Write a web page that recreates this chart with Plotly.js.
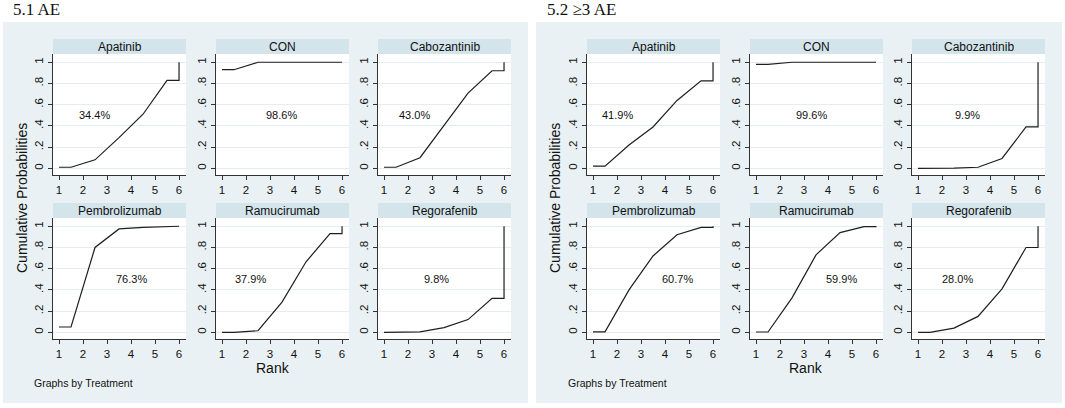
<!DOCTYPE html>
<html><head><meta charset="utf-8">
<script src="https://cdn.plot.ly/plotly-3.0.1.min.js"></script>
<style>html,body{margin:0;padding:0;background:#fff}#chart{width:1065px;height:408px}</style>
</head><body><div id="chart"></div>
<script>
// ---------------- DATA ----------------
const panelTitles = ["5.1 AE", "5.2 \u22653 AE"];
const treatments = ["Apatinib", "CON", "Cabozantinib", "Pembrolizumab", "Ramucirumab", "Regorafenib"];
const rankX = [1, 1.5, 2.5, 3.5, 4.5, 5.5, 6, 6];

// 5.1 AE cumulative probabilities
const aeApatinib      = [0.01, 0.01, 0.08, 0.29, 0.51, 0.83, 0.83, 1];
const aeCON           = [0.93, 0.93, 1, 1, 1, 1, 1, 1];
const aeCabozantinib  = [0.01, 0.01, 0.10, 0.41, 0.71, 0.92, 0.92, 1];
const aePembrolizumab = [0.05, 0.05, 0.80, 0.975, 0.99, 1, 1, 1];
const aeRamucirumab   = [0, 0, 0.015, 0.285, 0.665, 0.93, 0.93, 1];
const aeRegorafenib   = [0, 0, 0.005, 0.045, 0.12, 0.32, 0.32, 1];
const aeSucra = ["34.4%", "98.6%", "43.0%", "76.3%", "37.9%", "9.8%"];

// 5.2 >=3 AE cumulative probabilities
const g3Apatinib      = [0.02, 0.02, 0.22, 0.39, 0.64, 0.825, 0.825, 1];
const g3CON           = [0.98, 0.98, 1, 1, 1, 1, 1, 1];
const g3Cabozantinib  = [0, 0, 0.002, 0.01, 0.093, 0.39, 0.39, 1];
const g3Pembrolizumab = [0.005, 0.005, 0.40, 0.72, 0.92, 0.99, 0.99, 1];
const g3Ramucirumab   = [0.003, 0.003, 0.325, 0.73, 0.94, 0.997, 0.997, 1];
const g3Regorafenib   = [0, 0, 0.04, 0.15, 0.41, 0.80, 0.80, 1];
const g3Sucra = ["41.9%", "99.6%", "9.9%", "60.7%", "59.9%", "28.0%"];

const xTickVals = [1, 2, 3, 4, 5, 6];
const yTickVals = [0, 0.2, 0.4, 0.6, 0.8, 1];
const yTickText = ["0", ".2", ".4", ".6", ".8", "1"];
const yTitle = "Cumulative Probabilities";
const xTitle = "Rank";
const noteText = "Graphs by Treatment";

// ---------------- LAYOUT CONFIG ----------------
const W = 1065, H = 408;
const panelSeries = [
  [aeApatinib, aeCON, aeCabozantinib, aePembrolizumab, aeRamucirumab, aeRegorafenib],
  [g3Apatinib, g3CON, g3Cabozantinib, g3Pembrolizumab, g3Ramucirumab, g3Regorafenib]
];
const panelLabels = [aeSucra, g3Sucra];
const labelPosX = [[2.46, 3.46, 2.25, 4.04, 2.17, 3.2], [2.04, 3.33, 3.08, 4.54, 4.58, 2.65]];
const labelPosY = 0.5;

const panelBox = [[3, 22, 528, 403], [536, 22, 1062, 403]];
const plotLeft = [[53, 216, 378], [587, 750, 912]];
const plotW = 133;
const rowTop = [54, 218];
const plotH = 121;
const stripH = 15;
const xRange = [0.75, 6.29];
const yRange = [-0.063, 1.078];

const FONT = "Liberation Sans, Arial, sans-serif";
const SERIF = "Liberation Serif, Times New Roman, serif";
const panelBg = "#e9f1f4";
const stripBg = "#d3e4eb";
const gridCol = "#e4edf0";
const axisCol = "#333333";

const px = v => v / W;
const py = v => 1 - v / H;

const traces = [];
const layout = {
  width: W, height: H,
  margin: {l: 0, r: 0, t: 0, b: 0},
  paper_bgcolor: "#ffffff",
  plot_bgcolor: "#ffffff",
  showlegend: false,
  shapes: [],
  annotations: []
};

// panel backgrounds
panelBox.forEach(b => {
  layout.shapes.push({type: "rect", xref: "paper", yref: "paper", layer: "below",
    x0: px(b[0]), x1: px(b[2]), y0: py(b[3]), y1: py(b[1]),
    fillcolor: panelBg, line: {width: 0}});
});

let k = 0;
for (let p = 0; p < 2; p++) {
  for (let i = 0; i < 6; i++) {
    k++;
    const row = Math.floor(i / 3), col = i % 3;
    const x0 = plotLeft[p][col], x1 = x0 + plotW;
    const y0 = rowTop[row], y1 = y0 + plotH;
    const xa = "xaxis" + (k === 1 ? "" : k), ya = "yaxis" + (k === 1 ? "" : k);
    const xr = "x" + (k === 1 ? "" : k), yr = "y" + (k === 1 ? "" : k);

    // white plot area + strip
    layout.shapes.push({type: "rect", xref: "paper", yref: "paper", layer: "below",
      x0: px(x0), x1: px(x1), y0: py(y1), y1: py(y0), fillcolor: "#ffffff", line: {width: 0}});
    layout.shapes.push({type: "rect", xref: "paper", yref: "paper", layer: "below",
      x0: px(x0), x1: px(x1), y0: py(y0), y1: py(y0 - stripH), fillcolor: stripBg, line: {width: 0}});

    layout[xa] = {
      domain: [px(x0), px(x1)], anchor: yr, range: xRange,
      tickvals: xTickVals, ticks: "outside", ticklen: 4, tickwidth: 1, tickcolor: axisCol,
      showline: true, linecolor: axisCol, linewidth: 1, showgrid: false, zeroline: false,
      tickfont: {family: FONT, size: 11.5, color: "#111"}, fixedrange: true
    };
    layout[ya] = {
      domain: [py(y1), py(y0)], anchor: xr, range: yRange,
      tickvals: yTickVals, ticktext: yTickText, tickangle: -90,
      ticks: "outside", ticklen: 4, tickwidth: 1, tickcolor: axisCol,
      showline: true, linecolor: axisCol, linewidth: 1,
      showgrid: true, gridcolor: gridCol, gridwidth: 1, zeroline: false,
      tickfont: {family: FONT, size: 11.5, color: "#111"}, fixedrange: true
    };

    traces.push({
      type: "scatter", mode: "lines", x: rankX, y: panelSeries[p][i],
      xaxis: xr, yaxis: yr, line: {color: "#1e1e1e", width: 1.2},
      hoverinfo: "skip", showlegend: false
    });

    // strip label
    layout.annotations.push({xref: "paper", yref: "paper", x: px((x0 + x1) / 2), y: py(y0 - stripH / 2),
      text: treatments[i], showarrow: false, xanchor: "center", yanchor: "middle",
      font: {family: FONT, size: 12, color: "#111"}});
    // SUCRA label
    layout.annotations.push({xref: xr, yref: yr, x: labelPosX[p][i], y: labelPosY,
      text: panelLabels[p][i], showarrow: false, xanchor: "center", yanchor: "middle",
      font: {family: FONT, size: 11, color: "#111"}});
  }
}

const yTitleX = [22, 555];
const rankX_px = [273, 806];
const noteX = [32, 566];
const titleX = [11, 545];
for (let p = 0; p < 2; p++) {
  layout.annotations.push({xref: "paper", yref: "paper", x: px(yTitleX[p]), y: py(198),
    text: yTitle, textangle: -90, showarrow: false, xanchor: "center", yanchor: "middle",
    font: {family: FONT, size: 14, color: "#111"}});
  layout.annotations.push({xref: "paper", yref: "paper", x: px(rankX_px[p]), y: py(368),
    text: xTitle, showarrow: false, xanchor: "center", yanchor: "middle",
    font: {family: FONT, size: 14, color: "#111"}});
  layout.annotations.push({xref: "paper", yref: "paper", x: px(noteX[p]), y: py(383),
    text: noteText, showarrow: false, xanchor: "left", yanchor: "middle",
    font: {family: FONT, size: 10.5, color: "#111"}});
  layout.annotations.push({xref: "paper", yref: "paper", x: px(titleX[p]), y: py(9),
    text: panelTitles[p], showarrow: false, xanchor: "left", yanchor: "middle",
    font: {family: SERIF, size: 17, color: "#111"}});
}

Plotly.newPlot("chart", traces, layout, {staticPlot: true, displayModeBar: false});
</script>
</body></html>
